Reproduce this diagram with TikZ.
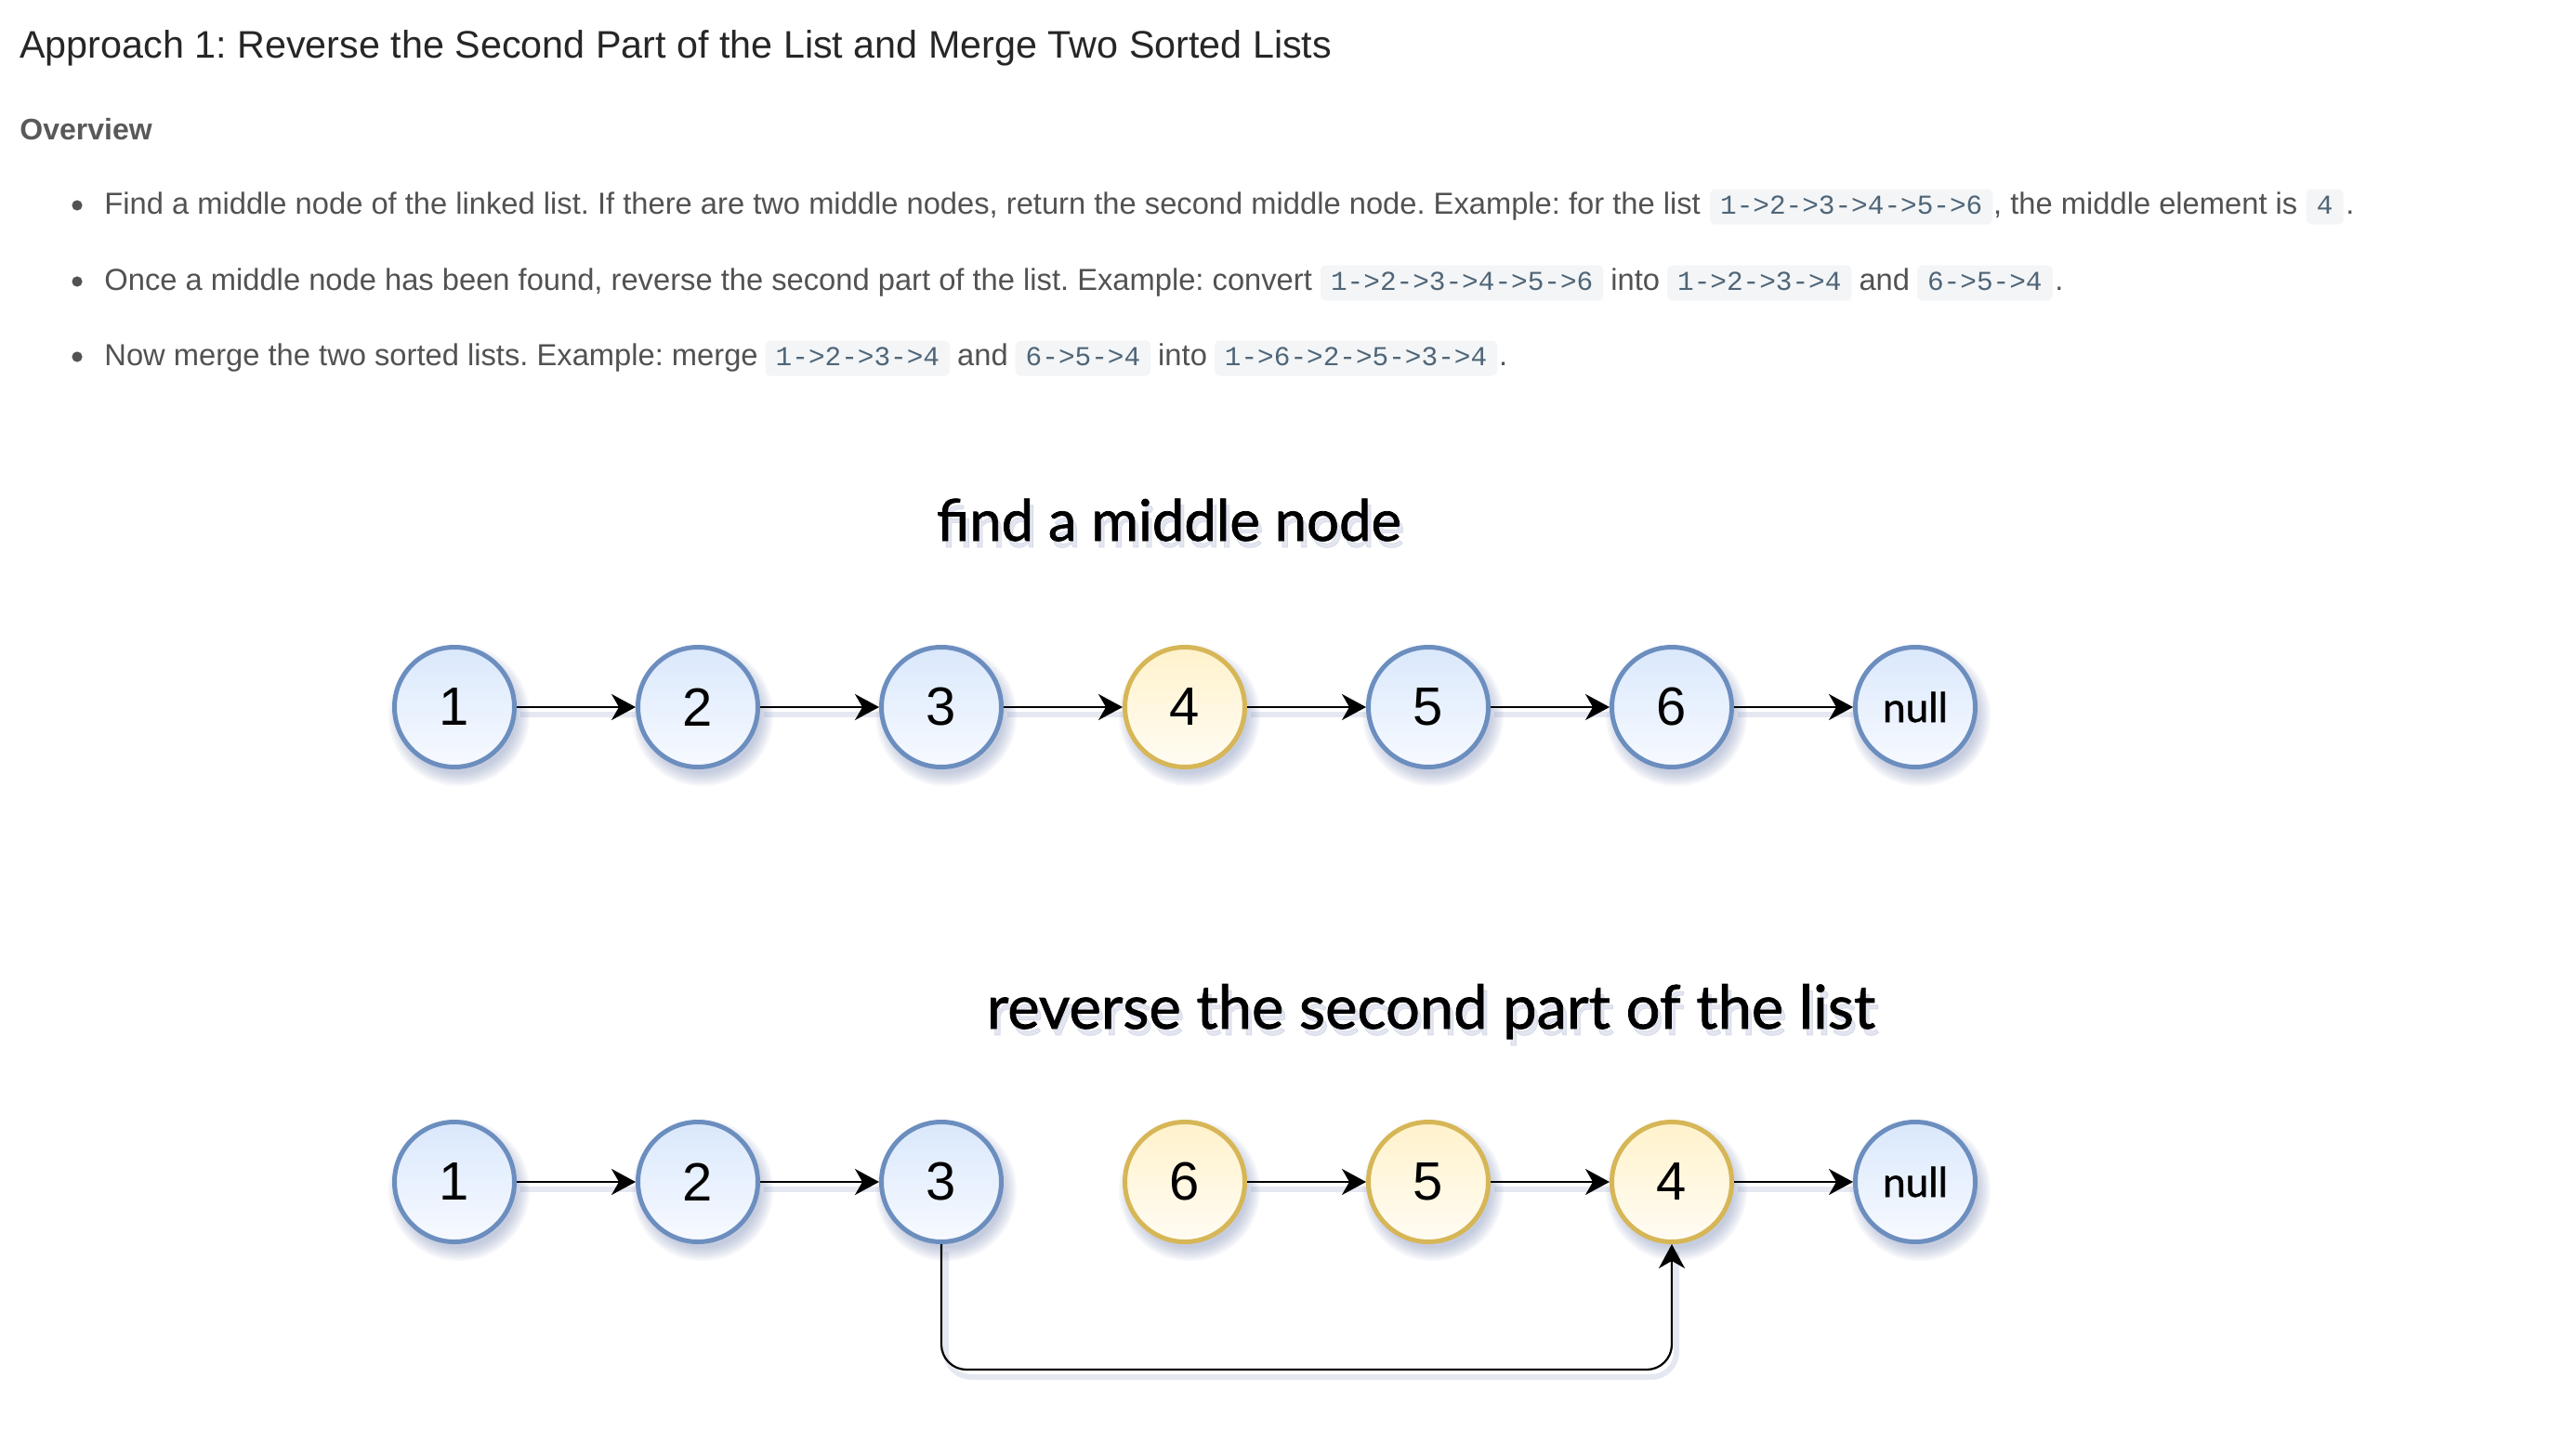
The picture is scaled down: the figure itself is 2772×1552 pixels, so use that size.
\documentclass[tikz,border=0pt]{standalone}
\usepackage{fontspec}
\setmainfont{Liberation Sans}
\newfontfamily\monofont{Liberation Mono}
\newfontfamily\comicfont{Lato}[FakeBold=1.2]
\usetikzlibrary{arrows.meta,calc}
\pgfdeclarelayer{bglayer}
\pgfdeclarelayer{shadowlayer}
\pgfsetlayers{bglayer,shadowlayer,main}
\frenchspacing
\definecolor{titlecol}{HTML}{262626}
\definecolor{overcol}{HTML}{595959}
\definecolor{bodycol}{HTML}{525252}
\definecolor{codefg}{HTML}{4F6577}
\definecolor{codebg}{HTML}{F3F5F7}
\definecolor{bluestroke}{HTML}{6C8EBF}
\definecolor{bluetop}{HTML}{DAE8FC}
\definecolor{bluebot}{HTML}{F7FAFF}
\definecolor{ystroke}{HTML}{D6B656}
\definecolor{ytop}{HTML}{FFF2CC}
\definecolor{ybot}{HTML}{FFFCF3}
\definecolor{shadowcol}{HTML}{7585B5}
\begin{document}
\begin{tikzpicture}[x=0.5pt,y=-0.5pt,
  txt/.style={anchor=base west, inner sep=0pt, font=\fontsize{16.35pt}{20pt}\selectfont, text=bodycol},
  codebox/.style={anchor=base west, inner xsep=5.5pt, inner ysep=2.6pt, text height=10.6pt, text depth=3.2pt,
    fill=codebg, rounded corners=3pt, font=\monofont\fontsize{14.7pt}{18pt}\selectfont, text=codefg},
  nd/.style={circle, minimum size=64.5pt, inner sep=0pt, line width=2.5pt, font=\fontsize{29pt}{30pt}\selectfont},
  bnode/.style={nd, draw=bluestroke, top color=bluetop, bottom color=bluebot},
  ynode/.style={nd, draw=ystroke, top color=ytop, bottom color=ybot},
  nulltxt/.style={font=\comicfont\fontsize{22pt}{24pt}\selectfont},
  arr/.style={draw=black, line width=1.1pt, -{Stealth[length=13pt,width=14pt,inset=4pt]}},
  caption/.style={anchor=base, inner sep=0pt, text=black},
  capshadow/.style={anchor=base, inner sep=0pt, text=shadowcol, opacity=0.2},
  dot/.style={fill=bodycol}
]
\useasboundingbox (0,0) rectangle (2772,1552);
\begin{pgfonlayer}{bglayer}
\fill[white] (0,0) rectangle (2772,1552);
\end{pgfonlayer}

% heading
\node[anchor=base west, inner sep=0pt, font=\fontsize{20.65pt}{24pt}\selectfont, text=titlecol] (title) at (21,63)
  {Approach 1: Reverse the Second Part of the List and Merge Two Sorted Lists};
\node[anchor=base west, inner sep=0pt, font=\bfseries\fontsize{16pt}{19pt}\selectfont, text=overcol] (overview) at (21,150) {Overview};

% bullet 1
\fill[dot] (83,221) circle (2.8pt);
\node[txt] (t11) at (112,230) {Find a middle node of the linked list. If there are two middle nodes, return the second middle node. Example: for the list};
\node[codebox] (c11) at ([xshift=4.6pt]t11.base east) {1->2->3->4->5->6};
\node[txt] (t12) at (c11.base east) {, the middle element is};
\node[codebox] (c12) at ([xshift=4.4pt]t12.base east) {4};
\node[txt] (t13) at ([xshift=1pt]c12.base east) {.};

% bullet 2
\fill[dot] (83,303) circle (2.8pt);
\node[txt] (t21) at (112,312) {Once a middle node has been found, reverse the second part of the list. Example: convert};
\node[codebox] (c21) at ([xshift=4.1pt]t21.base east) {1->2->3->4->5->6};
\node[txt] (t22) at ([xshift=3.6pt]c21.base east) {into};
\node[codebox] (c22) at ([xshift=3.6pt]t22.base east) {1->2->3->4};
\node[txt] (t23) at ([xshift=3.6pt]c22.base east) {and};
\node[codebox] (c23) at ([xshift=3.6pt]t23.base east) {6->5->4};
\node[txt] (t24) at ([xshift=1pt]c23.base east) {.};

% bullet 3
\fill[dot] (83,384) circle (2.8pt);
\node[txt] (t31) at (112,393) {Now merge the two sorted lists. Example: merge};
\node[codebox] (c31) at ([xshift=3.6pt]t31.base east) {1->2->3->4};
\node[txt] (t32) at ([xshift=3.6pt]c31.base east) {and};
\node[codebox] (c32) at ([xshift=3.6pt]t32.base east) {6->5->4};
\node[txt] (t33) at ([xshift=3.6pt]c32.base east) {into};
\node[codebox] (c33) at ([xshift=3.6pt]t33.base east) {1->6->2->5->3->4};
\node[txt] (t34) at ([xshift=0.6pt]c33.base east) {.};

% captions with soft shadow
\node[capshadow] at (1262,589) {\resizebox{250pt}{!}{\comicfont find a middle node}};
\node[capshadow] at (1544,1114) {\resizebox{478pt}{!}{\comicfont reverse the second part of the list}};
\node[caption] (cap1) at (1258,582) {\resizebox{250pt}{!}{\comicfont find a middle node}};
\node[caption] (cap2) at (1540,1107) {\resizebox{478pt}{!}{\comicfont reverse the second part of the list}};

% row 1
\node[bnode] (a1) at (489,761) {1};
\node[bnode] (a2) at (751,761) {2};
\node[bnode] (a3) at (1013,761) {3};
\node[ynode] (a4) at (1275,761) {4};
\node[bnode] (a5) at (1537,761) {5};
\node[bnode] (a6) at (1799,761) {6};
\node[bnode, nulltxt] (a7) at (2061,761) {null};

% row 2
\node[bnode] (b1) at (489,1272) {1};
\node[bnode] (b2) at (751,1272) {2};
\node[bnode] (b3) at (1013,1272) {3};
\node[ynode] (b4) at (1275,1272) {6};
\node[ynode] (b5) at (1537,1272) {5};
\node[ynode] (b6) at (1799,1272) {4};
\node[bnode, nulltxt] (b7) at (2061,1272) {null};

\coordinate (ybottom) at (0,1474);

% arrows
\foreach \s/\t in {a1/a2,a2/a3,a3/a4,a4/a5,a5/a6,a6/a7,b1/b2,b2/b3,b4/b5,b5/b6,b6/b7}
  \draw[arr] (\s.east) -- (\t.west);
\draw[arr, rounded corners=13.5pt] (b3.south) -- (b3.south |- ybottom) -- (b6.south |- ybottom) -- (b6.south);

% shadows
\begin{pgfonlayer}{shadowlayer}
\foreach \n in {a1,a2,a3,a4,a5,a6,a7,b1,b2,b3,b4,b5,b6,b7} {
  \foreach \k in {0,...,7} {
    \fill[shadowcol, opacity=0.06] ([shift={(5,9)}]\n.center) circle[radius={(76-2*\k)*0.5pt}];
  }
}
\foreach \s/\t in {a1/a2,a2/a3,a3/a4,a4/a5,a5/a6,a6/a7,b1/b2,b2/b3,b4/b5,b5/b6,b6/b7}
  \draw[shadowcol, opacity=0.18, line width=3pt] ([shift={(4,8)}]\s.east) -- ([shift={(4,8)}]\t.west);
\draw[shadowcol, opacity=0.18, line width=3pt, rounded corners=13.5pt]
  ([shift={(5,8)}]b3.south) -- ([shift={(5,8)}]b3.south |- ybottom) -- ([shift={(5,8)}]b6.south |- ybottom) -- ([shift={(5,8)}]b6.south);
\end{pgfonlayer}
\end{tikzpicture}
\end{document}
